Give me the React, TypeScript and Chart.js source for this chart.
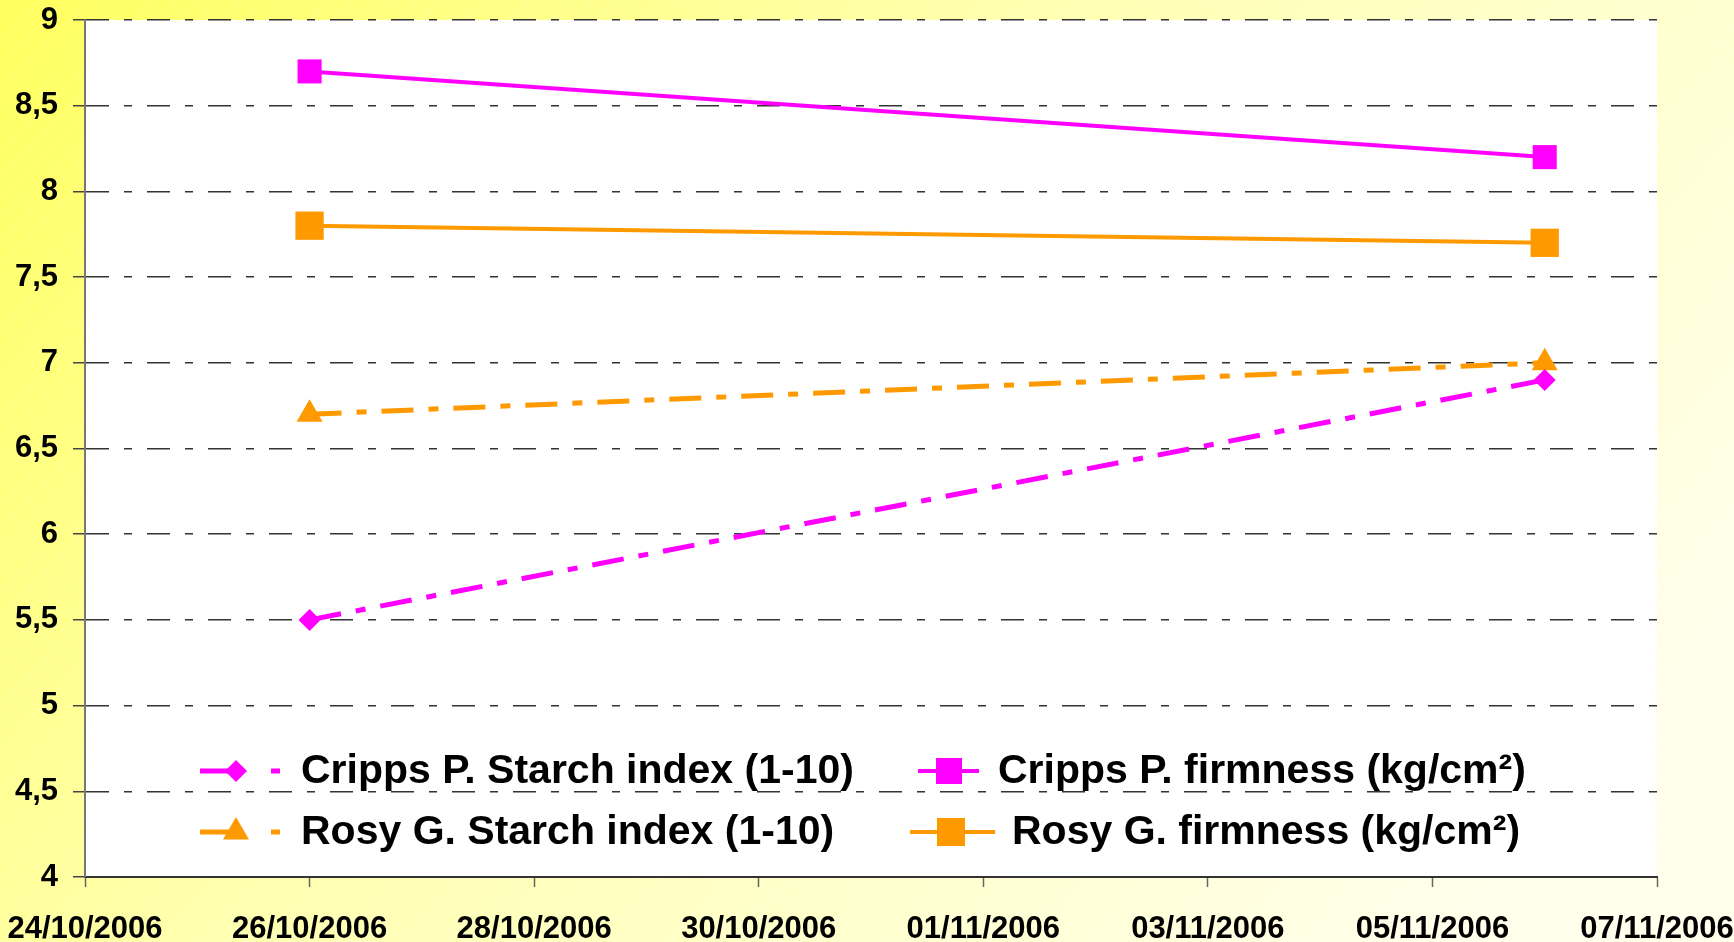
import React, { useEffect, useRef } from 'react';
import { Chart, registerables } from 'chart.js';

Chart.register(...registerables);

// ---- data ----
const tickLabels = ['24/10/2006', '26/10/2006', '28/10/2006', '30/10/2006', '01/11/2006', '03/11/2006', '05/11/2006', '07/11/2006'];
const dayOffsets = [2, 13]; // days after 24/10/2006 → 26/10/2006 and 06/11/2006
const crippsStarch = [5.5, 6.9];
const rosyStarch = [6.7, 7.0];
const crippsFirmness = [8.7, 8.2];
const rosyFirmness = [7.8, 7.7];
const seriesNames = [
  'Cripps P. Starch index (1-10)',
  'Cripps P. firmness (kg/cm²)',
  'Rosy G. Starch index (1-10)',
  'Rosy G. firmness (kg/cm²)',
];

const MAGENTA = '#ff00ff';
const ORANGE = '#ff9900';
const STARCH_DASH = [32, 15, 10, 15];
const GRID_DASH = [23, 15, 8, 15];

const pts = (vals: number[]) => vals.map((v, i) => ({ x: dayOffsets[i], y: v }));

function drawMarker(ctx: CanvasRenderingContext2D, shape: string, x: number, y: number, r: number, color: string) {
  ctx.save();
  ctx.fillStyle = color;
  ctx.setLineDash([]);
  ctx.beginPath();
  if (shape === 'diamond') {
    ctx.moveTo(x, y - r);
    ctx.lineTo(x + r, y);
    ctx.lineTo(x, y + r);
    ctx.lineTo(x - r, y);
  } else if (shape === 'triangle') {
    const w = r * Math.sqrt(3) / 2;
    ctx.moveTo(x, y - r);
    ctx.lineTo(x + w, y + r / 2);
    ctx.lineTo(x - w, y + r / 2);
  } else {
    ctx.rect(x - r, y - r, 2 * r, 2 * r);
  }
  ctx.closePath();
  ctx.fill();
  ctx.restore();
}

const bgPlugin = {
  id: 'bgPlugin',
  beforeDraw(chart: any) {
    const { ctx, width, height, chartArea } = chart;
    ctx.save();
    const g = ctx.createLinearGradient(0, 0, width * 0.75, height * 1.2);
    g.addColorStop(0, '#ffff5e');
    g.addColorStop(0.45, '#ffffb0');
    g.addColorStop(1, '#ffffec');
    ctx.fillStyle = g;
    ctx.fillRect(0, 0, width, height);
    // faint diagonal highlights
    ctx.strokeStyle = 'rgba(255,255,255,0.22)';
    ctx.lineWidth = 1;
    for (let k = -height; k < width; k += 22) {
      ctx.beginPath();
      ctx.moveTo(k, height);
      ctx.lineTo(k + height, 0);
      ctx.stroke();
    }
    ctx.fillStyle = '#ffffff';
    ctx.fillRect(chartArea.left, chartArea.top, chartArea.right - chartArea.left, chartArea.bottom - chartArea.top);
    ctx.restore();
  },
};

const legendItems = [
  { text: seriesNames[0], color: MAGENTA, shape: 'diamond', r: 11, dash: [36, 35, 9], lineX: [200, 280], mx: 236, tx: 301, ty: 771, lw: 5 },
  { text: seriesNames[1], color: MAGENTA, shape: 'square', r: 13, dash: [], lineX: [918, 979], mx: 949, tx: 998, ty: 771, lw: 4 },
  { text: seriesNames[2], color: ORANGE, shape: 'triangle', r: 15, dash: [36, 35, 9], lineX: [200, 280], mx: 236, tx: 301, ty: 832, lw: 5 },
  { text: seriesNames[3], color: ORANGE, shape: 'square', r: 14, dash: [], lineX: [910, 995], mx: 951, tx: 1012, ty: 832, lw: 4 },
];

const legendPlugin = {
  id: 'customLegend',
  afterDraw(chart: any) {
    const ctx: CanvasRenderingContext2D = chart.ctx;
    ctx.save();
    legendItems.forEach((it) => {
      ctx.strokeStyle = it.color;
      ctx.lineWidth = it.lw;
      ctx.setLineDash(it.dash);
      ctx.beginPath();
      ctx.moveTo(it.lineX[0], it.ty);
      ctx.lineTo(it.lineX[1], it.ty);
      ctx.stroke();
      drawMarker(ctx, it.shape, it.mx, it.ty, it.r, it.color);
      ctx.fillStyle = '#000000';
      ctx.font = 'bold 41px "Liberation Sans", Arial, sans-serif';
      ctx.textBaseline = 'middle';
      ctx.textAlign = 'left';
      ctx.fillText(it.text, it.tx, it.ty + 1);
    });
    ctx.restore();
  },
};

export default function App() {
  const ref = useRef<HTMLCanvasElement | null>(null);

  useEffect(() => {
    document.body.style.margin = '0';
    if (!ref.current) return;
    const chart = new Chart(ref.current, {
      type: 'line',
      data: {
        datasets: [
          {
            label: seriesNames[0],
            data: pts(crippsStarch),
            borderColor: MAGENTA,
            backgroundColor: MAGENTA,
            borderWidth: 5,
            borderDash: STARCH_DASH,
            pointStyle: 'rectRot',
            pointRadius: 11,
            pointBorderWidth: 0,
          },
          {
            label: seriesNames[2],
            data: pts(rosyStarch),
            borderColor: ORANGE,
            backgroundColor: ORANGE,
            borderWidth: 5,
            borderDash: STARCH_DASH,
            pointStyle: 'triangle',
            pointRadius: 15,
            pointBorderWidth: 0,
          },
          {
            label: seriesNames[1],
            data: pts(crippsFirmness),
            borderColor: MAGENTA,
            backgroundColor: MAGENTA,
            borderWidth: 4,
            pointStyle: 'rect',
            pointRadius: 17,
            pointBorderWidth: 0,
          },
          {
            label: seriesNames[3],
            data: pts(rosyFirmness),
            borderColor: ORANGE,
            backgroundColor: ORANGE,
            borderWidth: 4,
            pointStyle: 'rect',
            pointRadius: 20,
            pointBorderWidth: 0,
          },
        ],
      },
      options: {
        responsive: false,
        animation: false,
        events: [],
        layout: { padding: { top: 20, right: 77, left: 0, bottom: 0 } },
        plugins: {
          legend: { display: false },
          tooltip: { enabled: false },
          title: { display: false },
        },
        scales: {
          x: {
            type: 'linear',
            min: 0,
            max: 14,
            afterFit: (s: any) => {
              s.height = 65;
              s.paddingLeft = 0;
              s.paddingRight = 0;
              s.paddingTop = 0;
              s.paddingBottom = 0;
            },
            afterBuildTicks: (s: any) => {
              s.ticks = tickLabels.map((_, i) => ({ value: i * 2 }));
            },
            ticks: {
              stepSize: 2,
              autoSkip: false,
              maxRotation: 0,
              padding: 24,
              color: '#000000',
              font: { family: '"Liberation Sans", Arial, sans-serif', size: 31, weight: 'bold' },
              callback: (v: any) => tickLabels[Math.round(Number(v) / 2)] ?? '',
            },
            grid: {
              display: true,
              drawOnChartArea: false,
              drawTicks: true,
              tickLength: 10,
              tickColor: '#666666',
              tickWidth: 1.5,
            },
            border: { display: true, color: '#333333', width: 2 },
          },
          y: {
            type: 'linear',
            min: 4,
            max: 9,
            afterFit: (s: any) => {
              s.width = 85;
              s.paddingLeft = 0;
              s.paddingRight = 0;
              s.paddingTop = 0;
              s.paddingBottom = 0;
            },
            ticks: {
              stepSize: 0.5,
              padding: 15,
              color: '#000000',
              font: { family: '"Liberation Sans", Arial, sans-serif', size: 31, weight: 'bold' },
              callback: (v: any) => String(Number(v)).replace('.', ','),
            },
            grid: {
              display: true,
              color: '#333333',
              lineWidth: 1.5,
              drawTicks: true,
              tickLength: 12,
              tickColor: '#444444',
              tickWidth: 1.5,
              tickBorderDash: [],
            } as any,
            border: { display: true, color: '#777777', width: 2, dash: GRID_DASH } as any,
          },
        },
      },
      plugins: [bgPlugin, legendPlugin],
    } as any);
    return () => chart.destroy();
  }, []);

  return (
    <div style={{ width: 1734, height: 942 }}>
      <canvas ref={ref} width={1734} height={942} style={{ display: 'block' }} />
    </div>
  );
}
